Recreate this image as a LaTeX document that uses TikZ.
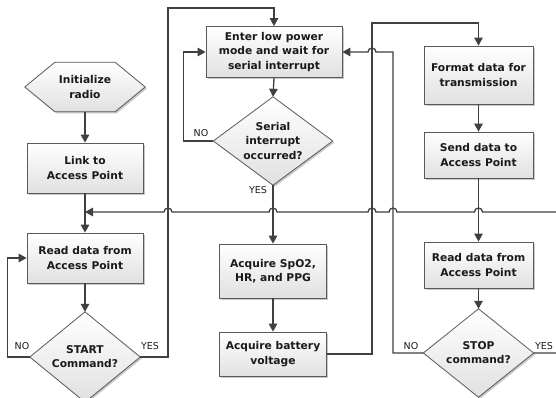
\documentclass[tikz,border=0pt]{standalone}
\usepackage{fontspec}
\setmainfont{DejaVu Sans}
\usetikzlibrary{arrows.meta,shadows}
\definecolor{linec}{HTML}{404040}
\definecolor{edgec}{HTML}{5A5A5A}
\definecolor{txtc}{HTML}{1A1A1A}
\tikzset{
  fillstyle/.style={draw=edgec, line width=0.8pt, top color=white, bottom color=black!12,
    drop shadow={shadow xshift=1.6pt, shadow yshift=-1.6pt, fill=black!30, opacity=0.7}},
  procbox/.style={fillstyle, rectangle, font=\fontsize{10.7}{14.2}\selectfont\bfseries,
    text=txtc, align=center, inner sep=0pt},
  frame/.style={rectangle, inner sep=0pt, draw=none},
  lbl/.style={font=\fontsize{10.7}{14.2}\selectfont\bfseries, text=txtc, align=center, inner sep=0pt},
  conn/.style={draw=linec, line width=1.3pt, -{Triangle[length=8pt,width=8.5pt]}},
  yn/.style={font=\fontsize{9.5}{10}\selectfont, text=txtc, inner sep=0pt},
}
\begin{document}
\begin{tikzpicture}[x=1pt,y=-1pt]
\useasboundingbox (0,0) rectangle (556,398);
\clip (0,0) rectangle (556,398);
\fill[white] (0,0) rectangle (556,398);

% ---- column 1
\node[frame, minimum width=120pt, minimum height=49pt] (init) at (85,87) {};
\path[fillstyle] (init.west) -- ([xshift=30pt]init.north west) -- ([xshift=-30pt]init.north east)
  -- (init.east) -- ([xshift=-30pt]init.south east) -- ([xshift=30pt]init.south west) -- cycle;
\node[lbl] (inittxt) at (init.center) {Initialize\\radio};

\node[procbox, minimum width=116pt, minimum height=50pt] (link) at (85,168) {Link to\\Access Point};
\node[procbox, minimum width=116pt, minimum height=50pt] (read1) at (85,258) {Read data from\\Access Point};

\node[frame, minimum width=110pt, minimum height=90pt] (start) at (85,357) {};
\path[fillstyle] (start.north) -- (start.east) -- (start.south) -- (start.west) -- cycle;
\node[lbl] (starttxt) at (start.center) {START\\Command?};

% ---- column 2
\node[procbox, minimum width=136pt, minimum height=51pt] (enter) at (274,52) {Enter low power\\mode and wait for\\serial interrupt};

\node[frame, minimum width=119pt, minimum height=88pt] (serial) at (273,141) {};
\path[fillstyle] (serial.north) -- (serial.east) -- (serial.south) -- (serial.west) -- cycle;
\node[lbl] (serialtxt) at (serial.center) {Serial\\interrupt\\occurred?};

\node[procbox, minimum width=107pt, minimum height=54pt] (spo2) at (273,271) {Acquire SpO2,\\HR, and PPG};
\node[procbox, minimum width=107pt, minimum height=44pt] (batt) at (273,354) {Acquire battery\\voltage};

% ---- column 3
\node[procbox, minimum width=109pt, minimum height=58pt] (format) at (478.5,75) {Format data for\\transmission};
\node[procbox, minimum width=109pt, minimum height=46pt] (send) at (478.5,155) {Send data to\\Access Point};
\node[procbox, minimum width=109pt, minimum height=46pt] (read3) at (478.5,265) {Read data from\\Access Point};

\node[frame, minimum width=110pt, minimum height=88pt] (stop) at (478.5,353) {};
\path[fillstyle] (stop.north) -- (stop.east) -- (stop.south) -- (stop.west) -- cycle;
\node[lbl] (stoptxt) at (stop.center) {STOP\\command?};

% ---- helper coordinates
\coordinate (merge) at (85,212);
\coordinate (ytop) at (168,8);
\coordinate (btop) at (372,23);
\coordinate (nox) at (393,52);
\coordinate (rx) at (562,212);

% ---- connectors
\draw[conn] (init.south) -- (link.north);
\draw[conn] (link.south) -- (read1.north);
\draw[conn] (read1.south) -- (start.north);
\draw[conn] (start.west) -- ++(-22,0) |- (read1.west);
\draw[conn] (start.east) -| (ytop) -| (enter.north);

\draw[conn] (enter.south) -- (serial.north);
\draw[conn] (serial.west) -- ++(-30,0) |- (enter.west);
\draw[conn] (serial.south) -- (spo2.north);
\draw[conn] (spo2.south) -- (batt.north);
\draw[conn] (batt.east) -| (btop) -| (format.north);

\draw[conn] (format.south) -- (send.north);
\draw[conn] (send.south) -- (read3.north);
\draw[conn] (read3.south) -- (stop.north);
\draw[conn] (stop.west) -| (nox) -- (376,52) arc[start angle=0,end angle=180,radius=4pt] -- (enter.east);
\draw[conn] (stop.east) -| (rx) -- (482.5,212) arc[start angle=0,end angle=180,radius=4pt]
  -- (397,212) arc[start angle=0,end angle=180,radius=4pt]
  -- (376,212) arc[start angle=0,end angle=180,radius=4pt]
  -- (277,212) arc[start angle=0,end angle=180,radius=4pt]
  -- (172,212) arc[start angle=0,end angle=180,radius=4pt]
  -- (merge);

% ---- labels
\node[yn] (no1) at (22,346) {NO};
\node[yn] (yes1) at (150,346) {YES};
\node[yn] (no2) at (201,133) {NO};
\node[yn] (yes2) at (258,190) {YES};
\node[yn] (no3) at (411,346) {NO};
\node[yn] (yes3) at (544,346) {YES};
\end{tikzpicture}
\end{document}
